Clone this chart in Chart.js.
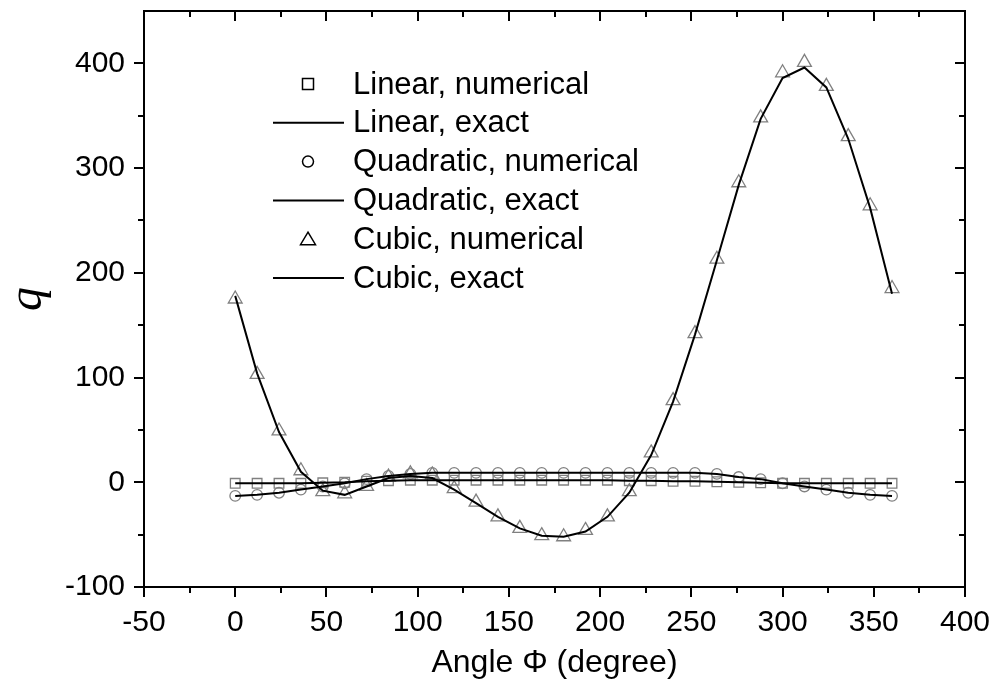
<!DOCTYPE html>
<html>
<head>
<meta charset="utf-8">
<script src="https://cdn.jsdelivr.net/npm/chart.js@4.4.1/dist/chart.umd.min.js"></script>
<style>
  html, body { margin: 0; padding: 0; background: #fff; }
  #wrap { width: 1008px; height: 684px; }
</style>
</head>
<body>
<div id="wrap"><canvas id="qChart" width="1008" height="684"></canvas></div>
<script>
// Angle Phi (degree), one sample every 12 degrees
const angles = [0, 12, 24, 36, 48, 60, 72, 84, 96, 108, 120, 132, 144, 156, 168, 180,
  192, 204, 216, 228, 240, 252, 264, 276, 288, 300, 312, 324, 336, 348, 360];

// q values
const linearNumerical = [-1, -1, -1, -1, -0.5, 0, 1, 1.5, 2, 2, 2, 2, 2, 2, 2, 2,
  2, 2, 1.5, 1.5, 1, 1, 0.5, 0, -0.5, -1, -1, -1, -1, -1, -1];
const linearExact = [-1, -1, -1, -1, -0.5, 0, 1, 1.5, 2, 2, 2, 2, 2, 2, 2, 2,
  2, 2, 1.5, 1.5, 1, 1, 0.5, 0, -0.5, -1, -1, -1, -1, -1, -1];
const quadraticNumerical = [-13, -12, -10, -7, -4, -1, 3, 6, 8, 9, 9, 9, 9, 9, 9, 9,
  9, 9, 9, 9, 9, 9, 8, 5, 3, -1, -4, -7, -10, -12, -13];
const quadraticExact = [-13, -12, -10, -7, -4, -1, 3, 6, 8, 9, 9, 9, 9, 9, 9, 9,
  9, 9, 9, 9, 9, 9, 8, 5, 3, -1, -4, -7, -10, -12, -13];
const cubicNumerical = [175, 103, 49, 11, -9, -11, -4, 5, 8, 7, -6, -19, -33, -44, -51, -52,
  -46, -33, -9, 28, 78, 142, 213, 286, 348, 391, 401, 378, 330, 264, 185];
const cubicExact = [178, 104, 48, 10, -8, -12, -4, 4, 6, 4, -7, -20, -33, -44, -51, -52,
  -47, -33, -10, 26, 77, 141, 212, 284, 347, 386, 396, 377, 328, 262, 180];

// axis ranges and labels
const xMin = -50, xMax = 400, xStep = 25, xLabelStep = 50;
const yMin = -100, yMax = 450, yStep = 50, yLabelStep = 100;
const xTitle = 'Angle \u03A6 (degree)';
const yTitle = 'q';

const FONT = "'Liberation Sans', Arial, sans-serif";
const markerGray = '#808080';

function toPoints(values) {
  return angles.map((a, i) => ({ x: a, y: values[i] }));
}

function markerSet(label, values, style, radius) {
  return {
    label: label,
    data: toPoints(values),
    showLine: false,
    pointStyle: style,
    pointRadius: radius,
    pointBorderColor: markerGray,
    pointBackgroundColor: 'rgba(0,0,0,0)',
    pointBorderWidth: 1.3,
    order: 2
  };
}

function lineSet(label, values) {
  return {
    label: label,
    data: toPoints(values),
    showLine: true,
    borderColor: '#000',
    borderWidth: 2,
    pointRadius: 0,
    tension: 0,
    order: 1
  };
}

const datasets = [
  markerSet('Linear, numerical', linearNumerical, 'rect', 6.8),
  lineSet('Linear, exact', linearExact),
  markerSet('Quadratic, numerical', quadraticNumerical, 'circle', 5.3),
  lineSet('Quadratic, exact', quadraticExact),
  markerSet('Cubic, numerical', cubicNumerical, 'triangle', 8),
  lineSet('Cubic, exact', cubicExact)
];

// frame and tick marks (major long, minor short)
const frameTicks = {
  id: 'frameTicks',
  afterDraw(chart) {
    const ctx = chart.ctx;
    const { left, right, top, bottom } = chart.chartArea;
    const xs = chart.scales.x, ys = chart.scales.y;
    ctx.save();
    ctx.strokeStyle = '#000';
    ctx.lineWidth = 2;
    ctx.strokeRect(left, top, right - left, bottom - top);
    ctx.beginPath();
    xs.ticks.forEach(t => {
      const px = Math.round(xs.getPixelForValue(t.value));
      const len = t.value % xLabelStep === 0 ? 10 : 6;
      ctx.moveTo(px, bottom); ctx.lineTo(px, bottom + len);
      ctx.moveTo(px, top); ctx.lineTo(px, top + len);
    });
    ys.ticks.forEach(t => {
      if (t.value >= yMax) return;
      const py = Math.round(ys.getPixelForValue(t.value));
      const len = t.value % yLabelStep === 0 ? 10 : 6;
      ctx.moveTo(left, py); ctx.lineTo(left - len, py);
      ctx.moveTo(right, py); ctx.lineTo(right - len, py);
    });
    ctx.stroke();
    ctx.restore();
  }
};

// legend drawn inside the plot, one row per dataset
const innerLegend = {
  id: 'innerLegend',
  afterDraw(chart) {
    const ctx = chart.ctx;
    const symX = 308, lineX0 = 273, lineX1 = 344, textX = 353;
    const rowY0 = 84, rowGap = 38.8;
    ctx.save();
    ctx.font = '31px ' + FONT;
    ctx.textBaseline = 'middle';
    ctx.textAlign = 'left';
    chart.data.datasets.forEach((ds, i) => {
      const y = rowY0 + i * rowGap;
      ctx.strokeStyle = '#000';
      ctx.fillStyle = '#000';
      ctx.beginPath();
      if (ds.showLine) {
        ctx.lineWidth = 2;
        ctx.moveTo(lineX0, y);
        ctx.lineTo(lineX1, y);
      } else {
        ctx.lineWidth = 1.5;
        if (ds.pointStyle === 'rect') {
          ctx.rect(symX - 5.5, y - 5.5, 11, 11);
        } else if (ds.pointStyle === 'circle') {
          ctx.arc(symX, y, 5.5, 0, Math.PI * 2);
        } else {
          ctx.moveTo(symX, y - 7);
          ctx.lineTo(symX + 7.5, y + 5.5);
          ctx.lineTo(symX - 7.5, y + 5.5);
          ctx.closePath();
        }
      }
      ctx.stroke();
      ctx.fillText(ds.label, textX, y + 1);
    });
    ctx.restore();
  }
};

const ctx = document.getElementById('qChart').getContext('2d');
new Chart(ctx, {
  type: 'scatter',
  data: { datasets: datasets },
  options: {
    responsive: false,
    animation: false,
    devicePixelRatio: 1,
    layout: { padding: { top: 11, right: 43, left: 0, bottom: 0 } },
    plugins: {
      legend: { display: false },
      tooltip: { enabled: false }
    },
    scales: {
      x: {
        type: 'linear',
        min: xMin,
        max: xMax,
        grid: { display: false, drawTicks: false },
        border: { display: false },
        ticks: {
          stepSize: xStep,
          autoSkip: false,
          maxRotation: 0,
          padding: 18,
          color: '#000',
          font: { family: FONT, size: 30 },
          callback: v => (v % xLabelStep === 0 ? v : '')
        },
        title: {
          display: true,
          text: xTitle,
          color: '#000',
          font: { family: FONT, size: 32 },
          padding: { top: 0, bottom: 2 }
        },
        afterFit(scale) {
          scale.height = 97;
          scale.paddingLeft = 0;
          scale.paddingRight = 0;
        }
      },
      y: {
        type: 'linear',
        min: yMin,
        max: yMax,
        grid: { display: false, drawTicks: false },
        border: { display: false },
        ticks: {
          stepSize: yStep,
          autoSkip: false,
          padding: 19,
          color: '#000',
          font: { family: FONT, size: 30 },
          callback: v => (v % yLabelStep === 0 && v < yMax ? v : '')
        },
        title: {
          display: true,
          text: yTitle,
          color: '#000',
          font: { family: "'Liberation Serif', 'Times New Roman', serif", size: 48, style: 'italic' },
          padding: { top: 0, bottom: 0 }
        },
        afterFit(scale) {
          scale.width = 144;
          scale.paddingTop = 0;
          scale.paddingBottom = 0;
        }
      }
    }
  },
  plugins: [frameTicks, innerLegend]
});
</script>
</body>
</html>
